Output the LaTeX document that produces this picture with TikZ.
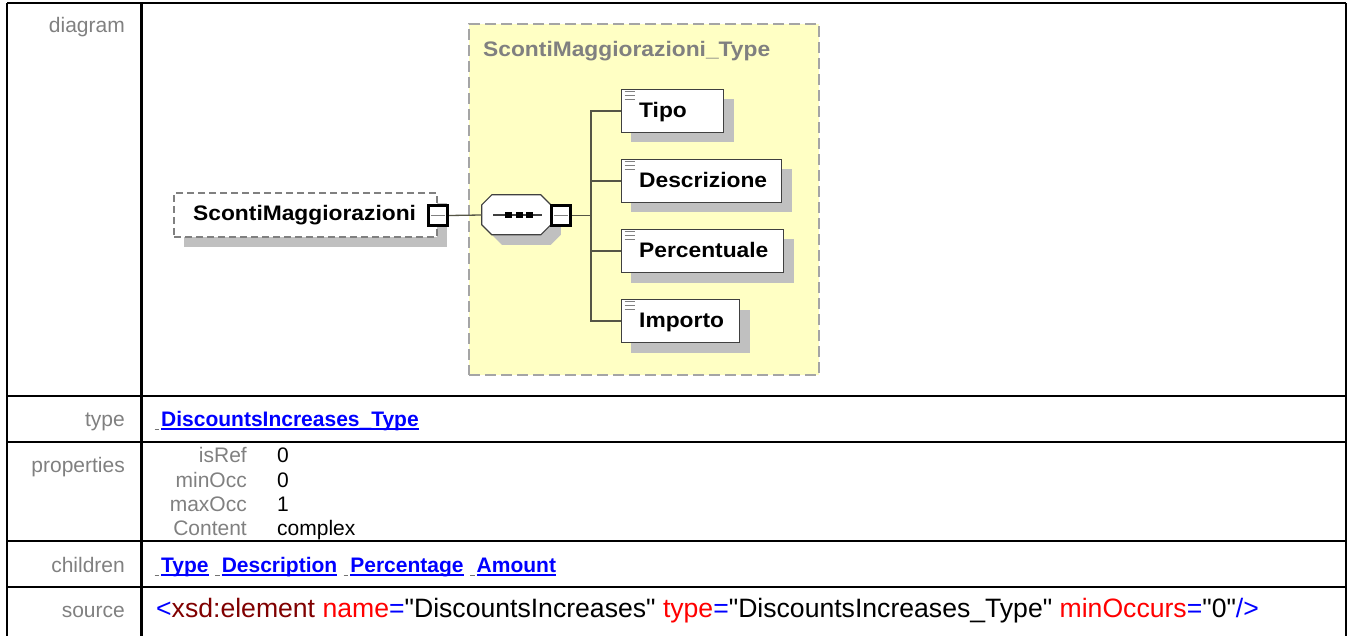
\documentclass[tikz,border=0pt]{standalone}
\usepackage{fontspec}
\setmainfont{Liberation Sans}
\newfontfamily\diagfont[FakeStretch=1.085]{Liberation Sans}
\usetikzlibrary{shadows,calc}
\definecolor{lblgray}{RGB}{128,128,128}
\definecolor{lnkblue}{RGB}{0,0,255}
\definecolor{xdred}{RGB}{128,0,0}
\definecolor{xred}{RGB}{255,0,0}
\definecolor{shgray}{RGB}{192,192,192}
\definecolor{ylw}{RGB}{255,255,196}
\definecolor{ydash}{RGB}{165,165,165}
\definecolor{smdash}{RGB}{128,128,128}
\definecolor{conncol}{RGB}{85,85,70}
\definecolor{boxcol}{RGB}{64,64,64}
\newcommand\sq{\XeTeXglyph\XeTeXcharglyph"22\relax}
\newcommand\ulink[1]{%
  \draw[uline] ($(#1.base west)+(0,3)$) -- ($(#1.base east)+(0,3)$);
  \draw[leadline] ($(#1.base west)+(-6.5,3)$) -- ++(4.5,0);}
\begin{document}
\begin{tikzpicture}[x=1pt,y=-1pt,
  tline/.style={line width=2.2pt,draw=black},
  lbl/.style={anchor=base east,inner sep=0pt,text=lblgray,font=\fontsize{21}{25}\selectfont},
  val/.style={anchor=base west,inner sep=0pt,text=black,font=\fontsize{21}{25}\selectfont},
  lnk/.style={anchor=base west,inner sep=0pt,text=lnkblue,font=\bfseries\fontsize{21}{25}\selectfont},
  uline/.style={draw=lnkblue,line width=1.7pt},
  leadline/.style={draw=black!55,line width=1pt},
  shad/.style={drop shadow={shadow xshift=10pt,shadow yshift=-10pt,fill=shgray,opacity=1}},
  elembox/.style={draw=boxcol,line width=1.3pt,fill=white,minimum height=43pt,inner sep=0pt,anchor=west,shad},
  elabel/.style={anchor=base west,inner sep=0pt,text=black,font=\diagfont\bfseries\fontsize{21}{25}\selectfont},
  minusbox/.style={draw=black,line width=2.6pt,fill=white,minimum size=19.5pt,inner sep=0pt},
  minusline/.style={draw=lblgray,line width=1pt},
  conn/.style={draw=conncol,line width=1.3pt},
  icon/.style={draw=lblgray,line width=1.2pt},
  seqbox/.style={minimum width=69pt,minimum height=40pt,inner sep=0pt}
]
\useasboundingbox (0,0) rectangle (1348,636);
% ---------- table ----------
\draw[tline] (7,3) -- (1346,3);
\draw[tline] (7,3) -- (7,640);
\draw[tline] (1346,3) -- (1346,640);
\draw[tline] (141.5,3) -- (141.5,640);
\foreach \yy in {396,442,541,587} \draw[tline] (7,\yy) -- (1346,\yy);
% ---------- labels ----------
\node[lbl] (ldiag) at (125,33) {diagram};
\node[lbl] (ltype) at (125,426) {type};
\node[lbl] (lprop) at (125,472) {properties};
\node[lbl] (lchild) at (125,572) {children};
\node[lbl] (lsrc) at (125,617) {source};
% ---------- diagram ----------
\node[draw=ydash,dash pattern=on 11pt off 5pt,line width=1.5pt,fill=ylw,minimum width=350pt,minimum height=351pt,inner sep=0pt] (ctype) at (644,199.5) {};
\node[anchor=base west,inner sep=0pt,text=lblgray,font=\diagfont\bfseries\fontsize{21}{25}\selectfont] (ctitle) at (483,57) {ScontiMaggiorazioni\_Type};
\node[draw=smdash,dash pattern=on 7pt off 4pt,line width=1.5pt,fill=white,minimum width=263pt,minimum height=44pt,inner sep=0pt,shad] (sm) at (305.5,215) {};
\node[elabel] (smtext) at (193,221) {ScontiMaggiorazioni};
\node[minusbox] (m1) at (438,215.5) {};
\draw[minusline] ($(m1.west)+(4,0)$) -- ($(m1.east)+(-4,0)$);
% sequence compositor (octagon)
\node[seqbox] (seq) at (516.5,215) {};
\fill[shgray,shift={(seq.north west)},xshift=10pt,yshift=-10pt]
  (10,0) -- (59,0) -- (69,10) -- (69,30) -- (59,40) -- (10,40) -- (0,30) -- (0,10) -- cycle;
\filldraw[fill=white,draw=boxcol,line width=1.2pt,shift={(seq.north west)}]
  (10,0) -- (59,0) -- (69,10) -- (69,30) -- (59,40) -- (10,40) -- (0,30) -- (0,10) -- cycle;
\draw[draw=boxcol,line width=1.2pt] ($(seq.center)+(-23.5,0)$) -- ($(seq.center)+(25.5,0)$);
\foreach \dx in {-8,3,13}
  \fill[black] ($(seq.center)+(\dx-3.4,-3.4)$) rectangle ++(6.8,6.8);
\node[minusbox] (m2) at (561,215.5) {};
\draw[minusline] ($(m2.west)+(4,0)$) -- ($(m2.east)+(-4,0)$);
\draw[conn] (m1.east) -- (seq.west);
% children
\node[elembox,minimum width=102.5pt] (tipo) at (620.5,111) {};
\node[elembox,minimum width=160.5pt] (descr) at (620.5,181) {};
\node[elembox,minimum width=162.5pt] (perc) at (620.5,251) {};
\node[elembox,minimum width=118.5pt] (imp) at (620.5,321) {};
\node[elabel] (ttipo) at ($(tipo.west)+(18.5,6.5)$) {Tipo};
\node[elabel] (tdescr) at ($(descr.west)+(18.5,6.5)$) {Descrizione};
\node[elabel] (tperc) at ($(perc.west)+(18.5,6.5)$) {Percentuale};
\node[elabel] (timp) at ($(imp.west)+(18.5,6.5)$) {Importo};
\foreach \b in {tipo,descr,perc,imp}
  \foreach \d in {3,7,11}
    \draw[icon] ($(\b.north west)+(4,\d)$) -- ++(10,0);
\coordinate (bus) at (591,215.5);
\draw[conn] (m2.east) -- (bus);
\draw[conn] (tipo.west) -- (tipo.west -| bus) -- (imp.west -| bus) -- (imp.west);
\draw[conn] (descr.west) -- (descr.west -| bus);
\draw[conn] (perc.west) -- (perc.west -| bus);
% ---------- type row ----------
\node[lnk] (tlink) at (161,426) {DiscountsIncreases\_Type};
\ulink{tlink}
% ---------- properties ----------
\node[lbl] (pk1) at (247,462) {isRef};
\node[lbl] (pk2) at (247,487) {minOcc};
\node[lbl] (pk3) at (247,511) {maxOcc};
\node[lbl] (pk4) at (247,535) {Content};
\node[val] (pv1) at (277,462) {0};
\node[val] (pv2) at (277,487) {0};
\node[val] (pv3) at (277,511) {1};
\node[val] (pv4) at (277,535) {complex};
% ---------- children ----------
\node[lnk] (c1) at (161,572) {Type};
\node[lnk] (c2) at ($(c1.base east)+(12.7,0)$) {Description};
\node[lnk] (c3) at ($(c2.base east)+(12.7,0)$) {Percentage};
\node[lnk] (c4) at ($(c3.base east)+(12.7,0)$) {Amount};
\ulink{c1}\ulink{c2}\ulink{c3}\ulink{c4}
% ---------- source ----------
\node[anchor=base west,inner sep=0pt,font=\fontsize{26.6}{30}\selectfont] (src) at (156,617)
  {\textcolor{lnkblue}{<}\textcolor{xdred}{xsd:element} \textcolor{xred}{name}\textcolor{lnkblue}{=}\sq DiscountsIncreases\sq{} \textcolor{xred}{type}\textcolor{lnkblue}{=}\sq DiscountsIncreases\_Type\sq{} \textcolor{xred}{minOccurs}\textcolor{lnkblue}{=}\sq 0\sq\textcolor{lnkblue}{/>}};
\end{tikzpicture}
\end{document}
